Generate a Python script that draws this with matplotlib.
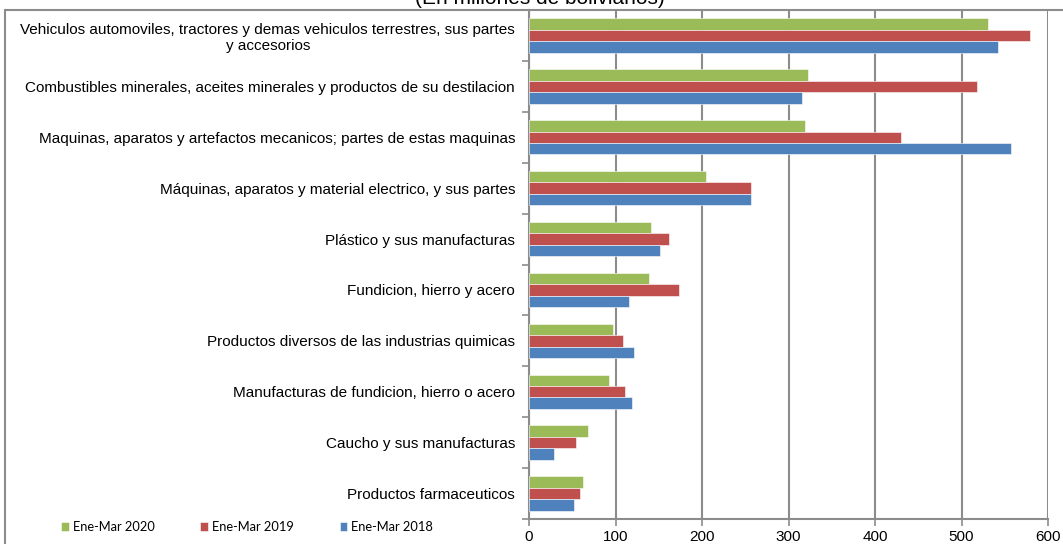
import matplotlib.pyplot as plt
import numpy as np
from matplotlib.patches import Rectangle

categorias = [
    "Vehiculos automoviles, tractores y demas vehiculos terrestres, sus partes\ny accesorios",
    "Combustibles minerales, aceites minerales y productos de su destilacion",
    "Maquinas, aparatos y artefactos mecanicos; partes de estas maquinas",
    "Máquinas, aparatos y material electrico, y sus partes",
    "Plástico y sus manufacturas",
    "Fundicion, hierro y acero",
    "Productos diversos de las industrias quimicas",
    "Manufacturas de fundicion, hierro o acero",
    "Caucho y sus manufacturas",
    "Productos farmaceuticos",
]
ene_mar_2020 = [531, 323, 319, 205, 141, 139, 97, 92, 68, 62]
ene_mar_2019 = [579, 518, 430, 257, 162, 173, 109, 111, 54, 59]
ene_mar_2018 = [542, 316, 557, 257, 152, 116, 121, 119, 29, 52]
series = ["Ene-Mar 2020", "Ene-Mar 2019", "Ene-Mar 2018"]
colores = ["#9BBB59", "#C0504D", "#4F81BD"]

plt.rcParams['font.family'] = ['Liberation Sans', 'DejaVu Sans']

fig = plt.figure(figsize=(10.63, 5.44), dpi=100)
ax = fig.add_axes([529 / 1063, 25 / 544, 519 / 1063, 509 / 544])

n = len(categorias)
pos = np.arange(n)[::-1]  # first category on top
h = 0.225
datos = [ene_mar_2020, ene_mar_2019, ene_mar_2018]
for i, (vals, nombre, c) in enumerate(zip(datos, series, colores)):
    ax.barh(pos + h - i * h, vals, height=h, color=c, label=nombre,
            edgecolor='white', linewidth=0.4, zorder=3)

ax.set_xlim(0, 600)
ax.set_ylim(-0.5, n - 0.5)
ax.set_xticks(np.arange(0, 601, 100))
ax.grid(axis='x', color='#8c8c8c', linewidth=1.5, zorder=0)

# category labels at centres, tick marks at boundaries
ax.set_yticks(np.arange(-0.5, n, 1.0))
ax.set_yticklabels([])
ax.set_yticks(pos, minor=True)
ax.set_yticklabels(categorias, minor=True, fontsize=11)
for lab in ax.get_yticklabels(minor=True):
    lab.set_multialignment('center')
ax.tick_params(axis='y', which='minor', length=0, pad=10)
ax.tick_params(axis='y', which='major', length=5, color='#8c8c8c', width=1.2)
ax.tick_params(axis='x', length=5, color='#8c8c8c', width=1.2, labelsize=11, pad=3)

for s in ['top', 'right']:
    ax.spines[s].set_visible(False)
for s in ['left', 'bottom']:
    ax.spines[s].set_color('#8c8c8c')
    ax.spines[s].set_linewidth(1.5)

# outer chart border (cropped)
fig.patches.append(Rectangle((5 / 1063, -0.1), 1.2, 0.1 + (544 - 10) / 544,
                             transform=fig.transFigure, fill=False,
                             edgecolor='#8c8c8c', linewidth=1.5))

fig.text(540 / 1063, (544 - 8) / 544, "(En millones de bolivianos)",
         ha='center', va='bottom', fontsize=15)

fig.legend(loc='center left', bbox_to_anchor=(61 / 1063, (544 - 527) / 544), ncol=3,
           frameon=False, handlelength=0.6, handleheight=0.6,
           handletextpad=0.3, columnspacing=3.55, borderpad=0, borderaxespad=0,
           prop={'family': ['Lato', 'DejaVu Sans'], 'size': 9.3})

fig.savefig("out.png", dpi=100)
